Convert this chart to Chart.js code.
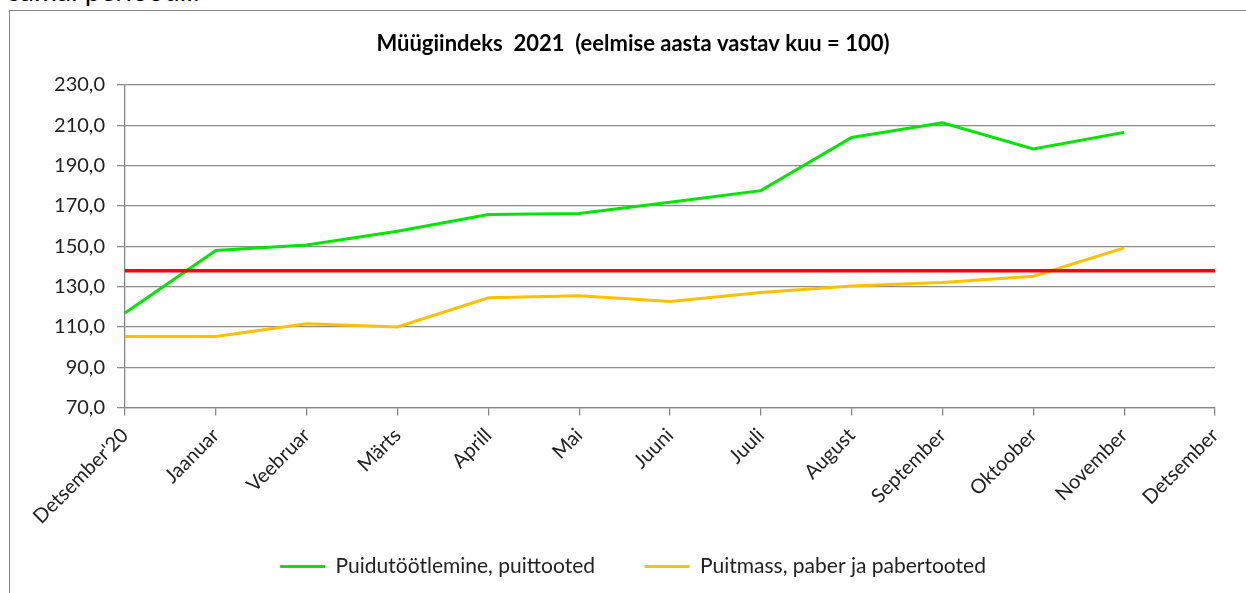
<!DOCTYPE html>
<html>
<head>
<meta charset="utf-8">
<script src="https://cdn.jsdelivr.net/npm/chart.js@4.4.1/dist/chart.umd.min.js"></script>
<style>
  html, body { margin: 0; padding: 0; background: #fff; overflow: hidden; }
  body { width: 1246px; height: 593px; position: relative; font-family: Lato, "Open Sans", sans-serif; }
  #topText { position: absolute; left: 8px; top: -24px; font-size: 28px; line-height: 28px; color: #000; white-space: nowrap; }
  #frame { position: absolute; left: 9px; top: 10px; width: 1300px; height: 700px; border: 1px solid #868686; box-sizing: border-box; }
  #wrap { position: absolute; left: 0; top: 0; width: 1246px; height: 593px; }
</style>
</head>
<body>
<div id="topText">samal perioodil.</div>
<div id="frame"></div>
<div id="wrap"><canvas id="c" width="1246" height="593"></canvas></div>
<script>
const titleText = "Müügiindeks  2021  (eelmise aasta vastav kuu = 100)";
const categories = ["Detsember'20", "Jaanuar", "Veebruar", "Märts", "Aprill", "Mai", "Juuni", "Juuli", "August", "September", "Oktoober", "November", "Detsember"];
const seriesNames = ["Puidutöötlemine, puittooted", "Puitmass, paber ja pabertooted"];
const puidutootlemine = [116.9, 147.9, 150.6, 157.4, 165.7, 166.2, 171.8, 177.6, 204.0, 211.3, 198.3, 206.5, null];
const puitmass = [105.2, 105.2, 111.6, 110.0, 124.4, 125.5, 122.6, 127.0, 130.3, 132.0, 135.1, 149.2, null];
const referenceLine = [137.8, 137.8, 137.8, 137.8, 137.8, 137.8, 137.8, 137.8, 137.8, 137.8, 137.8, 137.8, 137.8];
const yTicks = [70, 90, 110, 130, 150, 170, 190, 210, 230];

const FONT = "Lato";

new Chart(document.getElementById('c'), {
  type: 'line',
  data: {
    labels: categories,
    datasets: [
      { label: seriesNames[0], data: puidutootlemine, borderColor: '#00e600', backgroundColor: '#00e600', borderWidth: 3, pointRadius: 0, tension: 0, spanGaps: false, order: 1 },
      { label: seriesNames[1], data: puitmass, borderColor: '#ffc000', backgroundColor: '#ffc000', borderWidth: 3, pointRadius: 0, tension: 0, order: 2 },
      { label: 'ref', data: referenceLine, borderColor: '#ff0000', backgroundColor: '#ff0000', borderWidth: 3.5, pointRadius: 0, tension: 0, order: 0 }
    ]
  },
  options: {
    responsive: false,
    animation: false,
    devicePixelRatio: 1,
    layout: { padding: { left: 51, right: 31, top: 31, bottom: 6 } },
    plugins: {
      title: {
        display: true, text: titleText, color: '#000',
        font: { family: FONT, size: 22, weight: 'bold' },
        padding: { top: 0, bottom: 27.6 }
      },
      legend: {
        position: 'bottom',
        labels: {
          generateLabels: (chart) => {
            const items = Chart.defaults.plugins.legend.labels.generateLabels(chart).filter(it => it.datasetIndex < 2);
            items.forEach(it => { it.lineWidth = 0; if (it.datasetIndex === 0) it.text = it.text + '\u2002\u2002\u2002'; });
            return items;
          },
          boxWidth: 45, boxHeight: 3, color: '#222',
          font: { family: FONT, size: 21 },
          padding: 18
        }
      },
      tooltip: { enabled: false }
    },
    scales: {
      x: {
        offset: false,
        grid: { display: true, drawOnChartArea: false, drawTicks: true, tickLength: 8, color: '#888', lineWidth: 1.3 },
        border: { display: true, color: '#888', width: 1.3 },
        ticks: { autoSkip: false, maxRotation: 45, minRotation: 45, color: '#222', font: { family: FONT, size: 20 }, padding: 8 },
        afterFit: (s) => { s.height = 130.5; }
      },
      y: {
        min: 70, max: 230,
        afterBuildTicks: (s) => { s.ticks = yTicks.map(v => ({ value: v })); },
        grid: { color: '#8c8c8c', lineWidth: 1.3, tickLength: 8 },
        border: { display: true, color: '#888', width: 1.3 },
        ticks: { color: '#222', font: { family: FONT, size: 20 }, padding: 12,
                 callback: (v) => v.toFixed(1).replace('.', ',') },
        afterFit: (s) => { s.width = 74; }
      }
    }
  }
});
</script>
</body>
</html>
